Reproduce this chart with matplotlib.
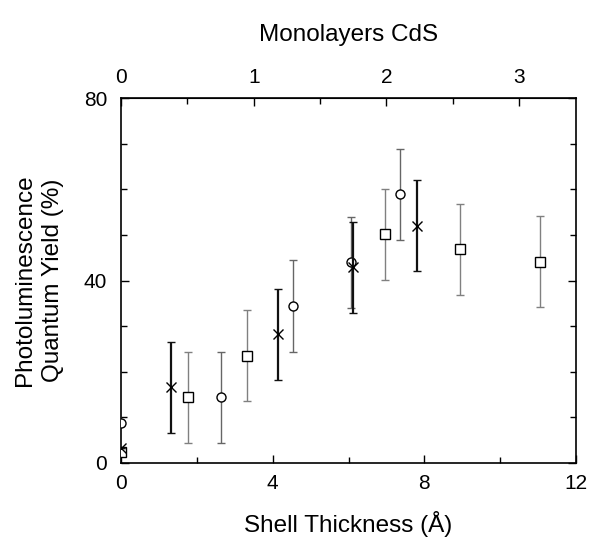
import matplotlib
matplotlib.use("Agg")
import matplotlib.pyplot as plt
import numpy as np

plt.rcParams['font.family'] = ['Liberation Sans', 'DejaVu Sans']

# Data (shell thickness in Å, quantum yield in %)
circ_x = [0.0, 2.64, 4.53, 6.06, 7.36]
circ_y = [8.8, 14.4, 34.4, 44.0, 58.9]
circ_e = [0, 10, 10, 10, 10]

sq_x = [0.0, 1.78, 3.32, 6.97, 8.93, 11.05]
sq_y = [2.5, 14.4, 23.5, 50.1, 46.8, 44.1]
sq_e = [0, 10, 10, 10, 10, 10]

cross_x = [0.0, 1.31, 4.15, 6.13, 7.80]
cross_y = [3.3, 16.6, 28.2, 42.9, 52.0]
cross_e = [0, 10, 10, 10, 10]

ML_ANGSTROM = 3.5
bottom_ticks = [0, 4, 8, 12]
left_ticks = [0, 40, 80]
top_ticks = [0, 1, 2, 3]

fig = plt.figure(figsize=(6.0, 5.59), dpi=100)
ax = fig.add_axes([121/600, 1-463/559, 455/600, 365/559])

ax.errorbar(sq_x, sq_y, yerr=sq_e, fmt='s', mfc='white', mec='black', mew=1.0,
            ms=6.5, ecolor='#808080', elinewidth=1.0, capsize=3, capthick=1.0, zorder=3)
ax.errorbar(circ_x, circ_y, yerr=circ_e, fmt='o', mfc='white', mec='black', mew=1.0,
            ms=6.5, ecolor='#666666', elinewidth=1.0, capsize=3, capthick=1.0, zorder=3)
ax.errorbar(cross_x, cross_y, yerr=cross_e, fmt='x', mfc='none', mec='black', mew=1.0,
            ms=7, ecolor='#111111', elinewidth=1.6, capsize=3, capthick=1.4, zorder=4)

ax.set_xlim(0, 12)
ax.set_ylim(0, 80)
ax.set_xticks(bottom_ticks)
ax.set_xticks([2, 6, 10], minor=True)
ax.set_yticks(left_ticks)
ax.set_yticks([10, 20, 30, 50, 60, 70], minor=True)
ax.tick_params(which='both', direction='in', top=False, right=True, labelsize=15)
ax.tick_params(which='major', length=6, width=1.0, pad=8)
ax.tick_params(axis='y', which='major', pad=10)
ax.tick_params(which='minor', length=4, width=1.0)
for s in ax.spines.values():
    s.set_linewidth(1.2)

ax.set_xlabel('Shell Thickness (Å)', fontsize=17.5, labelpad=13)
ax.set_ylabel('Photoluminescence\nQuantum Yield (%)', fontsize=17.5, labelpad=14,
              linespacing=1.35)

sec = ax.secondary_xaxis('top', functions=(lambda x: x / ML_ANGSTROM,
                                           lambda m: m * ML_ANGSTROM))
sec.set_xticks(top_ticks)
sec.set_xticks([0.5, 1.5, 2.5], minor=True)
sec.tick_params(which='both', direction='in', labelsize=15)
sec.tick_params(which='major', length=6, width=1.0, pad=8)
sec.tick_params(which='minor', length=4, width=1.0)
sec.set_xlabel('Monolayers CdS', fontsize=17.5, labelpad=19)

fig.savefig('out.png', dpi=100, facecolor='white')
